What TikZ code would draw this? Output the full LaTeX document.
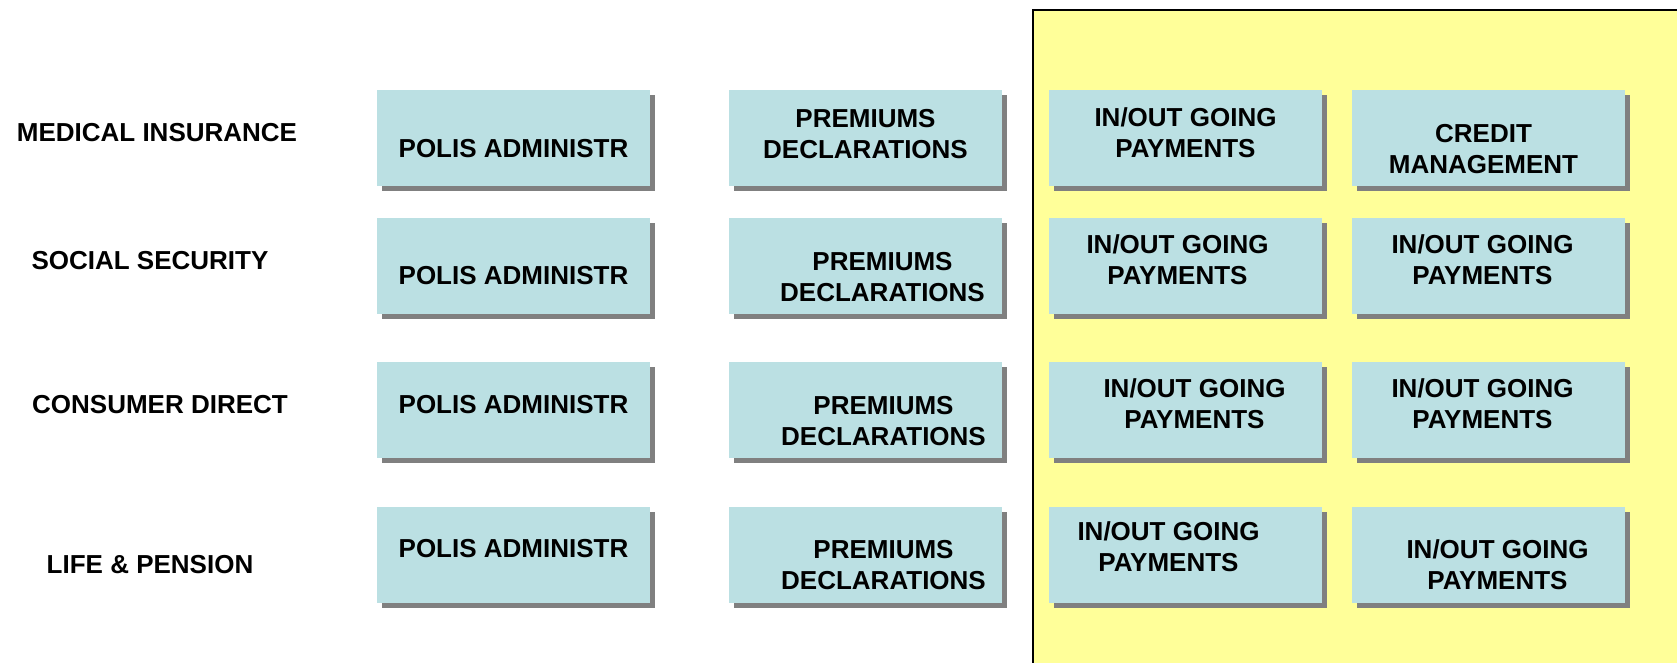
\documentclass[tikz,border=0pt]{standalone}
\usepackage{fontspec}
\setmainfont{Liberation Sans}
\usepackage{xcolor}
\usetikzlibrary{shadows}
\definecolor{cellblue}{HTML}{BBE0E3}
\definecolor{paneyellow}{HTML}{FFFF99}
\definecolor{shadowgray}{HTML}{808080}

\begin{document}
\begin{tikzpicture}[x=1pt,y=-1pt,
    cell/.style={fill=cellblue, minimum width=273pt, minimum height=96pt,
      inner sep=0pt, drop shadow={shadow xshift=5pt, shadow yshift=-5pt,
      fill=shadowgray, opacity=1}},
    txt/.style={font=\fontsize{26}{31}\selectfont\bfseries, align=center,
      inner sep=0pt}]
  \useasboundingbox (0,0) rectangle (1677,662);
  % yellow pane behind the two right columns
  \draw[line width=2pt, fill=paneyellow] (1033,10) rectangle (1700,700);

  % boxes
  \foreach \r/\y in {1/138,2/266,3/410,4/555} {
    \node[cell] (pa\r) at (513.5,\y) {};
    \node[cell] (pd\r) at (865.5,\y) {};
    \node[cell] (io\r) at (1185.5,\y) {};
    \node[cell] (cm\r) at (1488.5,\y) {};
  }

  % row labels
  \node[txt] (med) at (157,133) {MEDICAL INSURANCE};
  \node[txt] (soc) at (150,261) {SOCIAL SECURITY};
  \node[txt] (con) at (160,405) {CONSUMER DIRECT};
  \node[txt] (life) at (150,565) {LIFE \& PENSION};

  % box texts
  \node[txt] (tpa1) at ([shift={(0,11)}]pa1.center) {POLIS ADMINISTR};
  \node[txt] (tpa2) at ([shift={(0,10)}]pa2.center) {POLIS ADMINISTR};
  \node[txt] (tpa3) at ([shift={(0,-5)}]pa3.center) {POLIS ADMINISTR};
  \node[txt] (tpa4) at ([shift={(0,-6)}]pa4.center) {POLIS ADMINISTR};

  \node[txt] (tpd1) at ([shift={(0,-4)}]pd1.center) {PREMIUMS\\DECLARATIONS};
  \node[txt] (tpd2) at ([shift={(17,11)}]pd2.center) {PREMIUMS\\DECLARATIONS};
  \node[txt] (tpd3) at ([shift={(18,11)}]pd3.center) {PREMIUMS\\DECLARATIONS};
  \node[txt] (tpd4) at ([shift={(18,10)}]pd4.center) {PREMIUMS\\DECLARATIONS};

  \node[txt] (tio1) at ([shift={(0,-5)}]io1.center) {IN/OUT GOING\\PAYMENTS};
  \node[txt] (tio2) at ([shift={(-8,-6)}]io2.center) {IN/OUT GOING\\PAYMENTS};
  \node[txt] (tio3) at ([shift={(9,-6)}]io3.center) {IN/OUT GOING\\PAYMENTS};
  \node[txt] (tio4) at ([shift={(-17,-8)}]io4.center) {IN/OUT GOING\\PAYMENTS};

  \node[txt] (tcm1) at ([shift={(-5,11)}]cm1.center) {CREDIT\\MANAGEMENT};
  \node[txt] (tcm2) at ([shift={(-6,-6)}]cm2.center) {IN/OUT GOING\\PAYMENTS};
  \node[txt] (tcm3) at ([shift={(-6,-6)}]cm3.center) {IN/OUT GOING\\PAYMENTS};
  \node[txt] (tcm4) at ([shift={(9,10)}]cm4.center) {IN/OUT GOING\\PAYMENTS};
\end{tikzpicture}
\end{document}
